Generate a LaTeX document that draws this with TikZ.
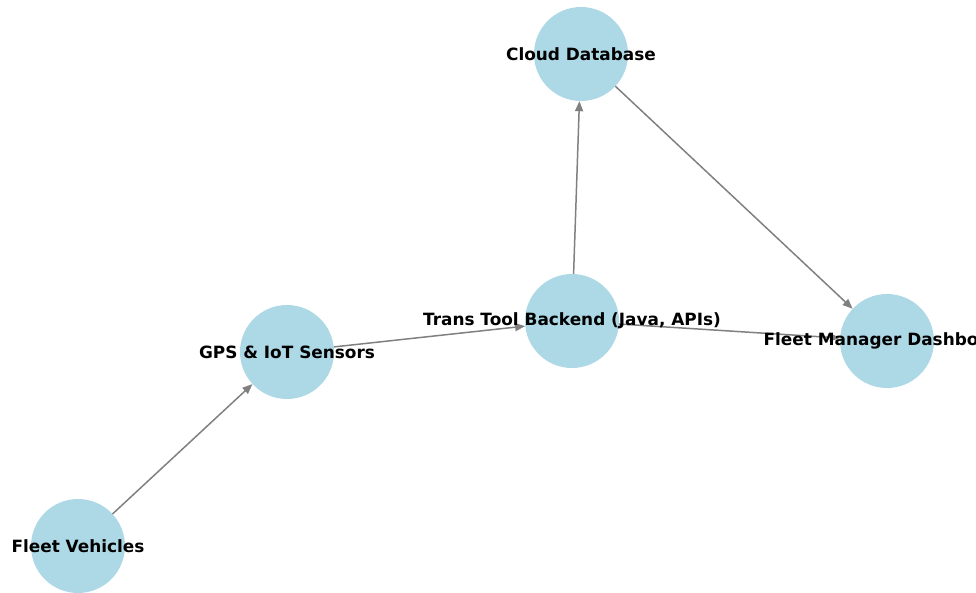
\documentclass[tikz,border=0pt]{standalone}
\usepackage{fontspec}
\setmainfont{DejaVu Sans}
\usetikzlibrary{arrows.meta}
\definecolor{nodeblue}{RGB}{173,216,230}
\definecolor{edgegray}{RGB}{128,128,128}
\tikzset{
  hub/.style={circle, fill=nodeblue, minimum size=94pt, inner sep=0pt},
  tag/.style={font=\bfseries\fontsize{16.9}{20}\selectfont, inner sep=0pt},
  link/.style={draw=edgegray, line width=1.5pt, -{Triangle[length=10pt,width=8pt]}}
}
\begin{document}
\begin{tikzpicture}[x=1pt,y=-1pt]
\useasboundingbox (0,0) rectangle (976,592);
\clip (0,0) rectangle (976,592);
% Circles
\node[hub] (db) at (581,54) {};
\node[hub] (be) at (572,321) {};
\node[hub] (gps) at (287,352) {};
\node[hub] (dash) at (887,341) {};
\node[hub] (fv) at (78,546) {};
% Data flow
\draw[link] (fv) -- (gps);
\draw[link] (gps) -- (be);
\draw[link] (be) -- (db);
\draw[link] (db) -- (dash);
\draw[link] (be) -- (dash);
% Labels on top
\node[tag] (dbtext) at (db) {Cloud Database};
\node[tag] (betext) at (be) {Trans Tool Backend (Java, APIs)};
\node[tag] (gpstext) at (gps) {GPS \& IoT Sensors};
\node[tag] (dashtext) at (dash) {Fleet Manager Dashboard};
\node[tag] (fvtext) at (fv) {Fleet Vehicles};
\end{tikzpicture}
\end{document}
